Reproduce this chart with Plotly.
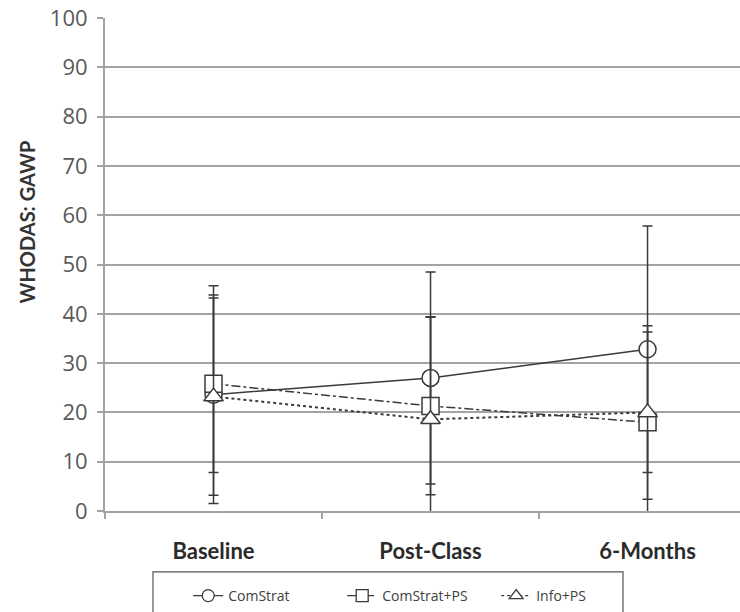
import plotly.graph_objects as go

categories = ["Baseline", "Post-Class", "6-Months"]

comstrat_mean = [23.6, 27.0, 32.8]
comstrat_err = [22.1, 21.5, 25.0]

comstrat_ps_mean = [25.8, 21.3, 18.0]
comstrat_ps_err = [18.0, 18.0, 18.3]

info_ps_mean = [23.2, 18.6, 20.0]
info_ps_err = [20.0, 20.8, 17.6]

y_ticks = [0, 10, 20, 30, 40, 50, 60, 70, 80, 90, 100]

dark = "#3a3a3a"
grid = "#a3a3a3"

fig = go.Figure()

series = [
    ("ComStrat", comstrat_mean, comstrat_err, "solid", "circle", 1.5),
    ("ComStrat+PS", comstrat_ps_mean, comstrat_ps_err, "dashdot", "square", 1.5),
    ("Info+PS", info_ps_mean, info_ps_err, "dot", "triangle-up", 2),
]

for name, mean, err, dash, sym, lw in series:
    fig.add_trace(go.Scatter(
        x=categories, y=mean, name=name, mode="lines+markers",
        line=dict(color=dark, width=lw, dash=dash),
        marker=dict(symbol=sym, size=17, color="white",
                    line=dict(color=dark, width=1.5)),
        error_y=dict(type="data", array=err, symmetric=True,
                     color=dark, thickness=1.5, width=5),
        showlegend=False, legendgroup=name,
    ))

# legend entries (smaller markers, as in the original legend)
for name, mean, err, dash, sym, lw in series:
    fig.add_trace(go.Scatter(
        x=[None], y=[None], name=name, mode="lines+markers",
        line=dict(color=dark, width=1.3, dash=dash),
        marker=dict(symbol=sym, size=12, color="white",
                    line=dict(color=dark, width=1.3)),
        showlegend=True, legendgroup=name,
    ))

fig.update_layout(
    width=740, height=612,
    margin=dict(l=105, r=0, t=18, b=100),
    paper_bgcolor="white", plot_bgcolor="white",
    font=dict(family="Open Sans", color="#595959"),
    showlegend=True,
    legend=dict(
        orientation="h", x=0.131, xanchor="left", y=-0.140, yanchor="top",
        font=dict(size=14, color="#404040"),
        bgcolor="rgba(0,0,0,0)", borderwidth=0,
        entrywidth=109, entrywidthmode="pixels",
    ),
    shapes=[dict(type="rect", xref="paper", yref="paper",
                 x0=(153 - 105) / 635, x1=(623 - 105) / 635,
                 y0=(512 - 573) / 494, y1=-0.25,
                 line=dict(color="#555555", width=1.2), fillcolor="rgba(0,0,0,0)")],
    annotations=[dict(text="WHODAS: GAWP", xref="paper", yref="paper",
                      x=(27 - 105) / 635, y=(512 - 223) / 494,
                      xanchor="center", yanchor="middle", textangle=-90,
                      showarrow=False,
                      font=dict(family="Lato", size=20, color="#333333", weight="bold"))],
)

fig.update_xaxes(
    type="category", range=[-0.5, 2.426],
    showline=True, linecolor=grid, linewidth=2,
    ticks="outside", tickson="boundaries", ticklen=6, tickcolor=grid, tickwidth=1.5,
    showgrid=False,
    tickfont=dict(family="Lato", size=22, color="#2a2a2a", weight="bold"),
    ticklabelstandoff=20,
)

fig.update_yaxes(
    range=[0, 100], tickvals=y_ticks,
    showline=True, linecolor=grid, linewidth=2,
    ticks="outside", ticklen=6, tickcolor=grid, tickwidth=1.5,
    showgrid=True, gridcolor=grid, gridwidth=1.5,
    zeroline=False,
    tickfont=dict(size=22, color="#595959"),
    ticklabelstandoff=5,
)

fig.write_html("out.html")
